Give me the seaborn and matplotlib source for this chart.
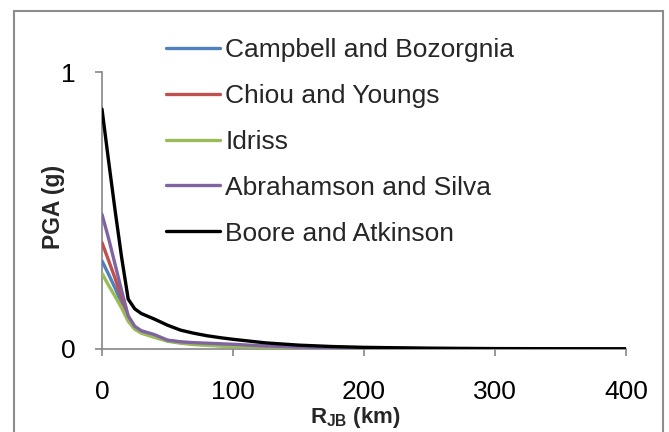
import matplotlib
matplotlib.use("Agg")
import matplotlib.pyplot as plt
from matplotlib.patches import Rectangle
import seaborn as sns
import pandas as pd

# ---- data ----
R_km = [0, 5, 10, 15, 20, 25, 30, 40, 50, 60, 70, 80, 90, 100, 125, 150, 175, 200, 250, 300, 350, 400]
campbell = [0.318, 0.27, 0.22, 0.165, 0.11, 0.076, 0.062, 0.046, 0.030, 0.023, 0.018, 0.015, 0.012, 0.010, 0.007, 0.004, 0.003, 0.002, 0.001, 0.0006, 0.0004, 0.0003]
chiou = [0.384, 0.32, 0.255, 0.185, 0.115, 0.078, 0.063, 0.048, 0.031, 0.024, 0.020, 0.017, 0.014, 0.012, 0.008, 0.005, 0.003, 0.002, 0.001, 0.0006, 0.0004, 0.0003]
idriss = [0.273, 0.23, 0.19, 0.148, 0.10, 0.071, 0.057, 0.042, 0.028, 0.021, 0.016, 0.013, 0.011, 0.009, 0.006, 0.004, 0.002, 0.0015, 0.0008, 0.0005, 0.0003, 0.0002]
abrahamson = [0.486, 0.40, 0.305, 0.21, 0.12, 0.082, 0.066, 0.052, 0.032, 0.026, 0.023, 0.021, 0.019, 0.017, 0.011, 0.007, 0.005, 0.003, 0.0015, 0.0008, 0.0005, 0.0004]
boore = [0.866, 0.68, 0.50, 0.33, 0.18, 0.145, 0.128, 0.108, 0.086, 0.068, 0.057, 0.048, 0.041, 0.035, 0.022, 0.014, 0.009, 0.006, 0.003, 0.0015, 0.001, 0.0006]

models = ["Campbell and Bozorgnia", "Chiou and Youngs", "Idriss",
          "Abrahamson and Silva", "Boore and Atkinson"]
series = [campbell, chiou, idriss, abrahamson, boore]
colors = ["#4F81BD", "#C0504D", "#9BBB59", "#8064A2", "#000000"]

x_ticks = [0, 100, 200, 300, 400]
y_ticks = [0, 1]

rows = []
for m, vals in zip(models, series):
    for r, v in zip(R_km, vals):
        rows.append({"R": r, "PGA": v, "model": m})
df = pd.DataFrame(rows)

# ---- style ----
sns.set_theme(style="white")
plt.rcParams["font.family"] = ["Liberation Sans", "DejaVu Sans"]
plt.rcParams["mathtext.fontset"] = "custom"
plt.rcParams["mathtext.rm"] = "Liberation Sans"
plt.rcParams["mathtext.bf"] = "Liberation Sans:bold"

fig = plt.figure(figsize=(6.69, 4.32), dpi=100)
fig.patch.set_facecolor("white")
ax = fig.add_axes([102 / 669, 1 - 349 / 432, 524 / 669, 277 / 432])

sns.lineplot(data=df, x="R", y="PGA", hue="model", hue_order=models,
             palette=colors, linewidth=2.4, ax=ax, legend=True)

ax.set_xlim(0, 400)
ax.set_ylim(0, 1)
ax.set_xticks(x_ticks)
ax.set_yticks(y_ticks)
ax.set_xticklabels([str(t) for t in x_ticks])
ax.set_yticklabels([str(t) for t in y_ticks])

axis_col = "#868686"
for s in ["top", "right"]:
    ax.spines[s].set_visible(False)
for s in ["left", "bottom"]:
    ax.spines[s].set_color(axis_col)
    ax.spines[s].set_linewidth(1.2)
    ax.spines[s].set_zorder(0.5)

ax.tick_params(axis="both", direction="out", length=5, width=1.2,
               color=axis_col, labelsize=19, labelcolor="black")
ax.tick_params(axis="x", pad=17.5, bottom=True)
ax.tick_params(axis="y", pad=14, left=True)

ax.set_xlabel(r"$\mathbf{R_{JB}}$ (km)", fontsize=16, fontweight="bold")
ax.set_ylabel("PGA (g)", fontsize=16.5, fontweight="bold")
ax.xaxis.set_label_coords(0.483, -0.203)
ax.yaxis.set_label_coords(-0.071, 0.513)

handles, labels = ax.get_legend_handles_labels()
leg = ax.legend(handles, labels, loc="upper left",
                bbox_to_anchor=(166 / 669, 1 - 38 / 432),
                bbox_transform=fig.transFigure,
                frameon=False, fontsize=19, handlelength=2.05,
                handletextpad=0.2, labelspacing=0.83,
                borderpad=0, borderaxespad=0)
for h in leg.get_lines():
    h.set_linewidth(2.4)

# chart-area border
fig.patches.append(Rectangle((14 / 669, -0.05), (663 - 14) / 669, 0.05 + 1 - 11 / 432,
                             transform=fig.transFigure, fill=False,
                             edgecolor="#8c8c8c", linewidth=1.5))

fig.savefig("out.png", dpi=100, facecolor="white")
